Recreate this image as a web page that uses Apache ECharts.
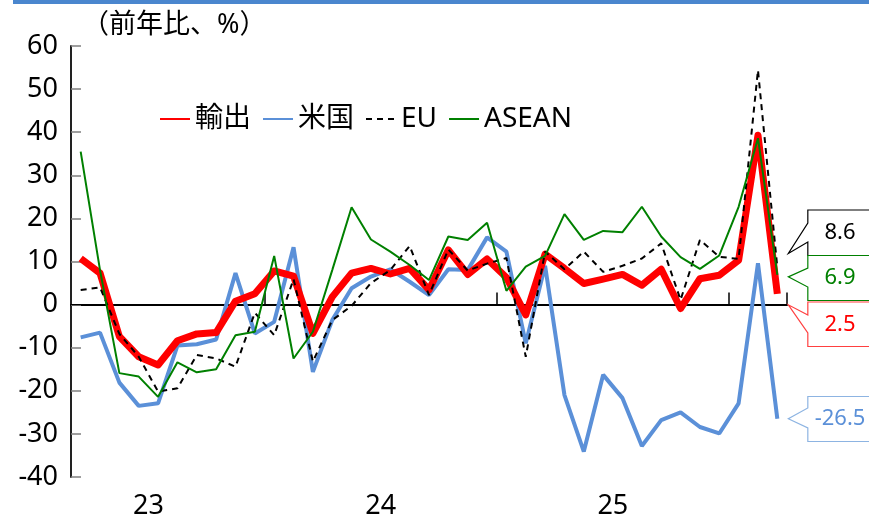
<!DOCTYPE html>
<html><head><meta charset="utf-8">
<script src="https://cdn.jsdelivr.net/npm/echarts@6/dist/echarts.min.js"></script>
<style>html,body{margin:0;padding:0;background:#fff}#c{width:869px;height:516px}</style>
</head><body><div id="c"></div>
<script>
// ---- data ----
const categories = [
  '2023/03','2023/04','2023/05','2023/06','2023/07','2023/08','2023/09','2023/10','2023/11','2023/12',
  '2024/01','2024/02','2024/03','2024/04','2024/05','2024/06','2024/07','2024/08','2024/09','2024/10','2024/11','2024/12',
  '2025/01','2025/02','2025/03','2025/04','2025/05','2025/06','2025/07','2025/08','2025/09','2025/10','2025/11','2025/12',
  '2026/01','2026/02','2026/03'
];
const seriesNames = ['輸出', '米国', 'EU', 'ASEAN'];
const exportYoY = [10.7, 7.3, -7.4, -12.1, -14.0, -8.4, -6.8, -6.5, 0.8, 2.5,
  7.8, 6.6, -6.7, 1.8, 7.3, 8.4, 7.1, 8.4, 3.4, 12.7, 7.0, 10.6,
  6.3, -2.4, 11.7, 8.4, 4.9, 5.9, 7.0, 4.5, 8.2, -0.9, 6.0, 6.8,
  10.3, 39.3, 2.5];
const usYoY = [-7.6, -6.5, -18.1, -23.5, -22.9, -9.5, -9.2, -8.1, 7.3, -6.7,
  -4.0, 13.3, -15.6, -3.6, 3.8, 6.5, 8.2, 5.3, 2.2, 8.2, 8.0, 15.6,
  12.3, -9.0, 9.0, -21.0, -34.1, -16.3, -21.7, -32.8, -26.8, -25.0, -28.4, -29.9,
  -22.9, 9.6, -26.5];
const euYoY = [3.4, 4.0, -6.8, -12.1, -20.2, -19.4, -11.7, -12.5, -14.4, -1.9,
  -7.1, 5.9, -13.2, -3.6, -0.3, 5.0, 8.0, 13.6, 2.2, 12.8, 7.9, 9.5,
  10.8, -12.1, 12.3, 8.2, 12.3, 7.6, 9.0, 10.7, 14.2, 1.1, 15.0, 11.1,
  10.6, 54.4, 8.6];
const aseanYoY = [35.5, 8.0, -15.9, -16.7, -21.4, -13.4, -15.7, -15.0, -7.1, -6.3,
  11.3, -12.5, -6.3, 8.0, 22.6, 15.1, 12.3, 9.2, 5.7, 15.8, 15.0, 19.0,
  3.2, 8.8, 11.3, 21.0, 15.0, 17.1, 16.8, 22.7, 15.8, 11.0, 8.3, 11.4,
  22.7, 38.6, 6.9];
const yMin = -40, yMax = 60, yStep = 10;
const unitLabel = '（前年比、%）';

// ---- styles ----
const FONT = "'Noto Sans', 'Noto Sans CJK JP', sans-serif";
const C_RED = '#FF0000', C_BLUE = '#5B90D8', C_BLACK = '#000000', C_GREEN = '#008000';

const chart = echarts.init(document.getElementById('c'), null, {renderer: 'canvas'});
const option = {
  animation: false,
  backgroundColor: '#ffffff',
  grid: {left: 71, right: 82, top: 46, bottom: 39, containLabel: false, outerBoundsMode: 'none'},
  legend: {
    left: 154, top: 100,
    data: seriesNames,
    itemWidth: 30, itemHeight: 14, itemGap: 11,
    itemStyle: {opacity: 0},
    textStyle: {fontSize: 28, fontFamily: FONT, color: '#000'}
  },
  xAxis: {
    type: 'category', data: categories, boundaryGap: true,
    axisLine: {lineStyle: {color: '#000', width: 2}},
    axisTick: {show: true, inside: true, length: 12,
      interval: (i, v) => v.endsWith('/01'),
      lineStyle: {color: '#000', width: 1.5}},
    axisLabel: {
      interval: (i, v) => v.endsWith('/07'),
      formatter: v => '{a|' + v.slice(2, 4) + '}',
      margin: 16,
      rich: {a: {fontSize: 27, fontFamily: FONT, color: '#000', padding: [0, 19.3, 0, 0]}}
    },
    splitLine: {show: false}
  },
  yAxis: {
    type: 'value', min: yMin, max: yMax, interval: yStep,
    axisLine: {show: true, lineStyle: {color: '#222', width: 2}},
    axisTick: {show: true, inside: true, length: 10, lineStyle: {color: '#808080', width: 1.5}},
    axisLabel: {fontSize: 27, fontFamily: FONT, color: '#000', margin: 13},
    splitLine: {show: false}
  },
  series: [
    {name: seriesNames[0], type: 'line', data: exportYoY, symbol: 'none', z: 3,
      lineStyle: {color: C_RED, width: 7, join: 'round'}, itemStyle: {color: C_RED},
      markLine: {silent: true, symbol: 'none', label: {show: false},
        lineStyle: {color: '#000', width: 1.2, type: 'solid'}, data: [{yAxis: 0}], z: 1}},
    {name: seriesNames[1], type: 'line', data: usYoY, symbol: 'none', z: 2,
      lineStyle: {color: C_BLUE, width: 4}, itemStyle: {color: C_BLUE}},
    {name: seriesNames[2], type: 'line', data: euYoY, symbol: 'none', z: 4,
      lineStyle: {color: C_BLACK, width: 2, type: [6, 5]}, itemStyle: {color: C_BLACK}},
    {name: seriesNames[3], type: 'line', data: aseanYoY, symbol: 'none', z: 5,
      lineStyle: {color: C_GREEN, width: 2}, itemStyle: {color: C_GREEN}}
  ],
  graphic: [
    {type: 'rect', left: 13, top: 0, shape: {width: 860, height: 4}, style: {fill: '#4A86CE'}, z: 10},
    {type: 'text', left: 82, top: 12, style: {text: unitLabel, font: '27px ' + FONT, fill: '#000'}}
  ]
};
chart.setOption(option);

// ---- callout labels for latest values ----
const lastIdx = categories.length - 1;
const calloutSpecs = [
  {s: 2, vals: euYoY,    text: '#000000', stroke: '#000000', top: 210, bot: 255.5, bTop: 223, bBot: 242, dy: -14},
  {s: 3, vals: aseanYoY, text: C_GREEN,   stroke: C_GREEN,   top: 255.5, bot: 300.5, bTop: 268, bBot: 287, dy: 2},
  {s: 0, vals: exportYoY,text: C_RED,     stroke: '#FF4040', top: 302, bot: 346.5, bTop: 315, bBot: 333, dy: 11},
  {s: 1, vals: usYoY,    text: C_BLUE,    stroke: '#8DB4E2', top: 396.5, bot: 441.5, bTop: 408, bBot: 428, dy: 0}
];
const extra = [];
// hide the automatic closing tick that ECharts adds at the far end of a band axis
const endPx = chart.convertToPixel({xAxisIndex: 0}, categories[lastIdx]);
const halfBand = (chart.convertToPixel({xAxisIndex: 0}, categories[lastIdx]) - chart.convertToPixel({xAxisIndex: 0}, categories[lastIdx - 1])) / 2;
const axisY = chart.convertToPixel({yAxisIndex: 0}, yMin);
extra.push({type: 'rect', z: 15, shape: {x: endPx + halfBand - 1.5, y: axisY - 14, width: 3, height: 13}, style: {fill: '#fff'}});
calloutSpecs.forEach(c => {
  const v = c.vals[lastIdx];
  const p = chart.convertToPixel({seriesIndex: c.s}, [lastIdx, v]);
  const tipX = p[0] + 11, tipY = p[1] + c.dy;
  const L = tipX + 19.5, R = 885;
  extra.push({
    type: 'polygon', z: 20,
    shape: {points: [[R, c.top], [L, c.top], [L, c.bTop], [tipX, tipY], [L, c.bBot], [L, c.bot], [R, c.bot]]},
    style: {fill: '#fff', stroke: c.stroke, lineWidth: 1.2}
  });
  extra.push({
    type: 'text', z: 21, x: 840, y: (c.top + c.bot) / 2,
    style: {text: v.toFixed(1), font: '22px ' + FONT, fill: c.text, align: 'center', verticalAlign: 'middle',
      textAlign: 'center', textVerticalAlign: 'middle'}
  });
});
chart.setOption({graphic: option.graphic.concat(extra)});
</script></body></html>
